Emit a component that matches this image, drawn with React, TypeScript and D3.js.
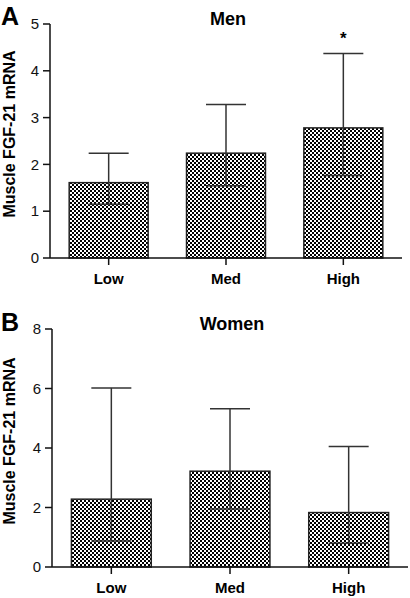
import React from "react";
import * as d3 from "d3";

const categories = ["Low", "Med", "High"];
const menMean = [1.61, 2.24, 2.78];
const menUpper = [2.24, 3.28, 4.37];
const menLower = [1.15, 1.545, 1.765];
const womenMean = [2.28, 3.22, 1.83];
const womenUpper = [6.02, 5.32, 4.05];
const womenLower = [0.87, 1.95, 0.8];
const menTicks = [0, 1, 2, 3, 4, 5];
const womenTicks = [0, 2, 4, 6, 8];
const menSig = ["", "", "*"];

const FONT = "'Liberation Sans', Arial, Helvetica, sans-serif";

type PanelProps = {
  letter: string;
  title: string;
  mean: number[];
  upper: number[];
  lower: number[];
  ticks: number[];
  yMax: number;
  x0: number;
  x1: number;
  yTop: number;
  yBottom: number;
  letterY: number;
  titleY: number;
  sig?: string[];
};

function Panel(p: PanelProps) {
  const x = d3
    .scaleBand<string>()
    .domain(categories)
    .range([p.x0, p.x1])
    .paddingInner(0.327)
    .paddingOuter(0.1635);
  const y = d3.scaleLinear().domain([0, p.yMax]).range([p.yBottom, p.yTop]);
  const bw = x.bandwidth();
  const capW = 40;
  const labelCenter = (p.yTop + p.yBottom) / 2 - 7;
  return (
    <g>
      <text x={1} y={p.letterY} fontSize={25} fontWeight="bold" fontFamily={FONT}>
        {p.letter}
      </text>
      <text
        x={(p.x0 + p.x1) / 2 + 2}
        y={p.titleY}
        fontSize={18}
        fontWeight="bold"
        textAnchor="middle"
        fontFamily={FONT}
      >
        {p.title}
      </text>
      <text
        transform={`translate(15,${labelCenter}) rotate(-90)`}
        fontSize={16}
        fontWeight="bold"
        textAnchor="middle"
        fontFamily={FONT}
      >
        Muscle FGF-21 mRNA
      </text>
      {categories.map((c, i) => {
        const cx = (x(c) as number) + bw / 2;
        return (
          <g key={c}>
            <rect
              x={x(c)}
              y={y(p.mean[i])}
              width={bw}
              height={y(0) - y(p.mean[i])}
              fill="url(#checker)"
              stroke="#222"
              strokeWidth={1.5}
            />
            <line x1={cx} x2={cx} y1={y(p.lower[i])} y2={y(p.upper[i])} stroke="#333" strokeWidth={1.5} />
            <line x1={cx - capW / 2} x2={cx + capW / 2} y1={y(p.upper[i])} y2={y(p.upper[i])} stroke="#333" strokeWidth={1.5} />
            <line x1={cx - capW / 2} x2={cx + capW / 2} y1={y(p.lower[i])} y2={y(p.lower[i])} stroke="#333" strokeWidth={1.5} />
            {p.sig && p.sig[i] ? (
              <text x={cx} y={y(p.upper[i]) - 9} fontSize={17} fontWeight="bold" textAnchor="middle" fontFamily={FONT}>
                {p.sig[i]}
              </text>
            ) : null}
            <line x1={cx} x2={cx} y1={y(0)} y2={y(0) + 7} stroke="#111" strokeWidth={1.5} />
            <text x={cx} y={y(0) + 26} fontSize={15} fontWeight="bold" textAnchor="middle" fontFamily={FONT}>
              {c}
            </text>
          </g>
        );
      })}
      <line x1={p.x0} x2={p.x0} y1={p.yTop} y2={p.yBottom} stroke="#111" strokeWidth={1.5} />
      <line x1={p.x0} x2={p.x1} y1={p.yBottom} y2={p.yBottom} stroke="#111" strokeWidth={1.5} />
      {p.ticks.map((t) => (
        <g key={t}>
          <line x1={p.x0 - 7} x2={p.x0} y1={y(t)} y2={y(t)} stroke="#111" strokeWidth={1.5} />
          <text
            x={p.x0 - 11}
            y={y(t)}
            dy="0.35em"
            fontSize={15}
            textAnchor="end"
            fontFamily={FONT}
            fill="#111"
          >
            {t}
          </text>
        </g>
      ))}
    </g>
  );
}

export default function App() {
  return (
    <svg
      width={410}
      height={598}
      style={{ position: "absolute", left: 0, top: 0, background: "#fff" }}
    >
      <defs>
        <pattern id="checker" patternUnits="userSpaceOnUse" width={4} height={4}>
          <rect width={4} height={4} fill="#fff" />
          <rect x={0} y={0} width={2} height={2} fill="#000" />
          <rect x={2} y={2} width={2} height={2} fill="#000" />
        </pattern>
      </defs>
      <rect width={410} height={598} fill="#fff" />
      <Panel
        letter="A"
        title="Men"
        mean={menMean}
        upper={menUpper}
        lower={menLower}
        ticks={menTicks}
        yMax={5}
        x0={50}
        x1={402}
        yTop={24}
        yBottom={258}
        letterY={25}
        titleY={25}
        sig={menSig}
      />
      <Panel
        letter="B"
        title="Women"
        mean={womenMean}
        upper={womenUpper}
        lower={womenLower}
        ticks={womenTicks}
        yMax={8}
        x0={52}
        x1={408}
        yTop={329}
        yBottom={567}
        letterY={331}
        titleY={330}
      />
    </svg>
  );
}
